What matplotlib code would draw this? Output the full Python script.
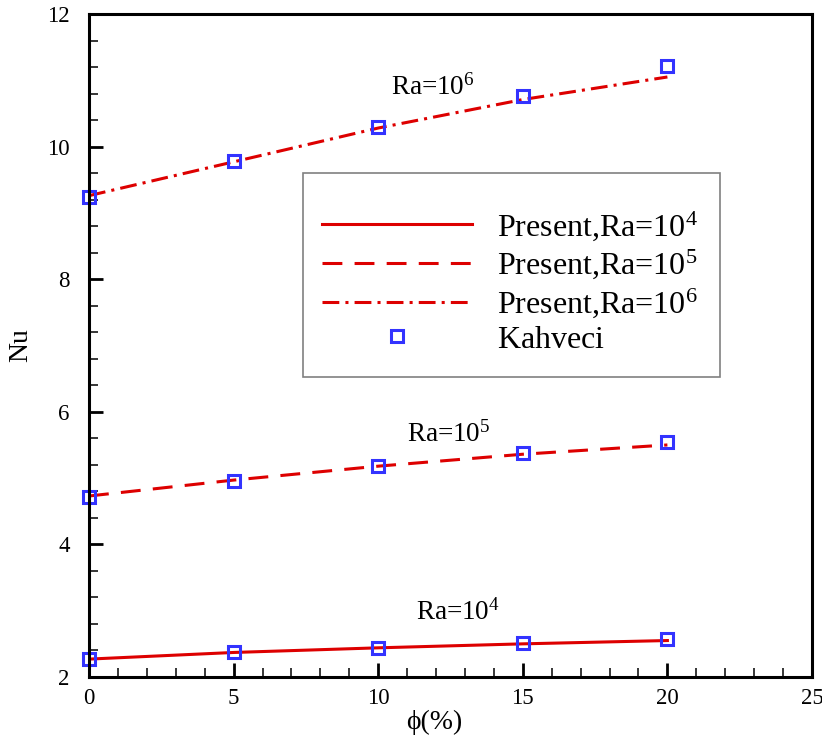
import numpy as np
import matplotlib
matplotlib.use("Agg")
import matplotlib.pyplot as plt
from matplotlib.patches import Rectangle
from matplotlib.ticker import MultipleLocator

plt.rcParams['font.family'] = ['Liberation Serif', 'DejaVu Serif']
plt.rcParams['mathtext.fontset'] = 'custom'
plt.rcParams['mathtext.rm'] = 'Liberation Serif'
plt.rcParams['mathtext.default'] = 'regular'

# data
phi = [0, 5, 10, 15, 20]
present_ra4 = [2.27, 2.37, 2.44, 2.50, 2.55]
present_ra5 = [4.73, 4.97, 5.18, 5.36, 5.50]
present_ra6 = [9.26, 9.77, 10.28, 10.71, 11.05]
kahveci_ra4 = [2.27, 2.38, 2.44, 2.51, 2.57]
kahveci_ra5 = [4.72, 4.96, 5.18, 5.38, 5.545]
kahveci_ra6 = [9.24, 9.78, 10.30, 10.77, 11.21]

RED = '#dd0000'
BLUE = '#3333ff'
LW = 2.2

fig = plt.figure(figsize=(8.22, 7.44), dpi=100)
ax = fig.add_axes([89/822, 67/744, 723/822, 663/744])

ax.plot(phi, present_ra4, color=RED, lw=LW, ls='-', label='Present,Ra=10$^4$')
ax.plot(phi, present_ra5, color=RED, lw=LW, dashes=(6.5, 4), label='Present,Ra=10$^5$')
ax.plot(phi, present_ra6, color=RED, lw=LW, dashes=(5.5, 2, 1, 2), label='Present,Ra=10$^6$')
mk = dict(ls='none', marker='s', ms=8.5, mfc='none', mec=BLUE, mew=2.2, clip_on=False)
ax.plot(phi, kahveci_ra4, label='Kahveci$^{\\,}$', **mk)
ax.plot(phi, kahveci_ra5, **mk)
ax.plot(phi, kahveci_ra6, **mk)

ax.text(10.45, 10.78, 'Ra=10$^6$', fontsize=19.5, ha='left', va='baseline')
ax.text(10.98, 5.55, 'Ra=10$^5$', fontsize=19.5, ha='left', va='baseline')
ax.text(11.31, 2.86, 'Ra=10$^4$', fontsize=19.5, ha='left', va='baseline')

ax.set_xlim(0, 25)
ax.set_ylim(2, 12)
ax.xaxis.set_major_locator(MultipleLocator(5))
ax.xaxis.set_minor_locator(MultipleLocator(1))
ax.yaxis.set_major_locator(MultipleLocator(2))
ax.yaxis.set_minor_locator(MultipleLocator(0.4))
ax.tick_params(which='major', direction='in', length=10, width=2, labelsize=16.5)
ax.tick_params(which='minor', direction='in', length=6.5, width=1.1)
ax.tick_params(axis='x', which='major', pad=8)
ax.tick_params(axis='y', which='major', pad=14)
for s in ax.spines.values():
    s.set_linewidth(2.2)

ax.set_xlabel('\u03d5(%)', fontsize=20, va='center')
ax.xaxis.set_label_coords(0.478, -0.068)
ax.set_ylabel('Nu', fontsize=20, va='center')
ax.yaxis.set_label_coords(-0.095, 0.50)

# legend frame drawn separately (extra room above the first entry)
ax.add_patch(Rectangle((0.296, 0.4525), 0.577, 0.3075, transform=ax.transAxes,
                       fill=True, facecolor='white', edgecolor='#808080', lw=1.2, zorder=4))
leg = ax.legend(loc='upper left', bbox_to_anchor=(0.322, 0.7055), borderaxespad=0,
                fontsize=23, handlelength=4.7, handletextpad=0.78, borderpad=0,
                labelspacing=0.16, numpoints=1, frameon=False)
leg.set_zorder(5)

fig.savefig('out.png', dpi=100)
